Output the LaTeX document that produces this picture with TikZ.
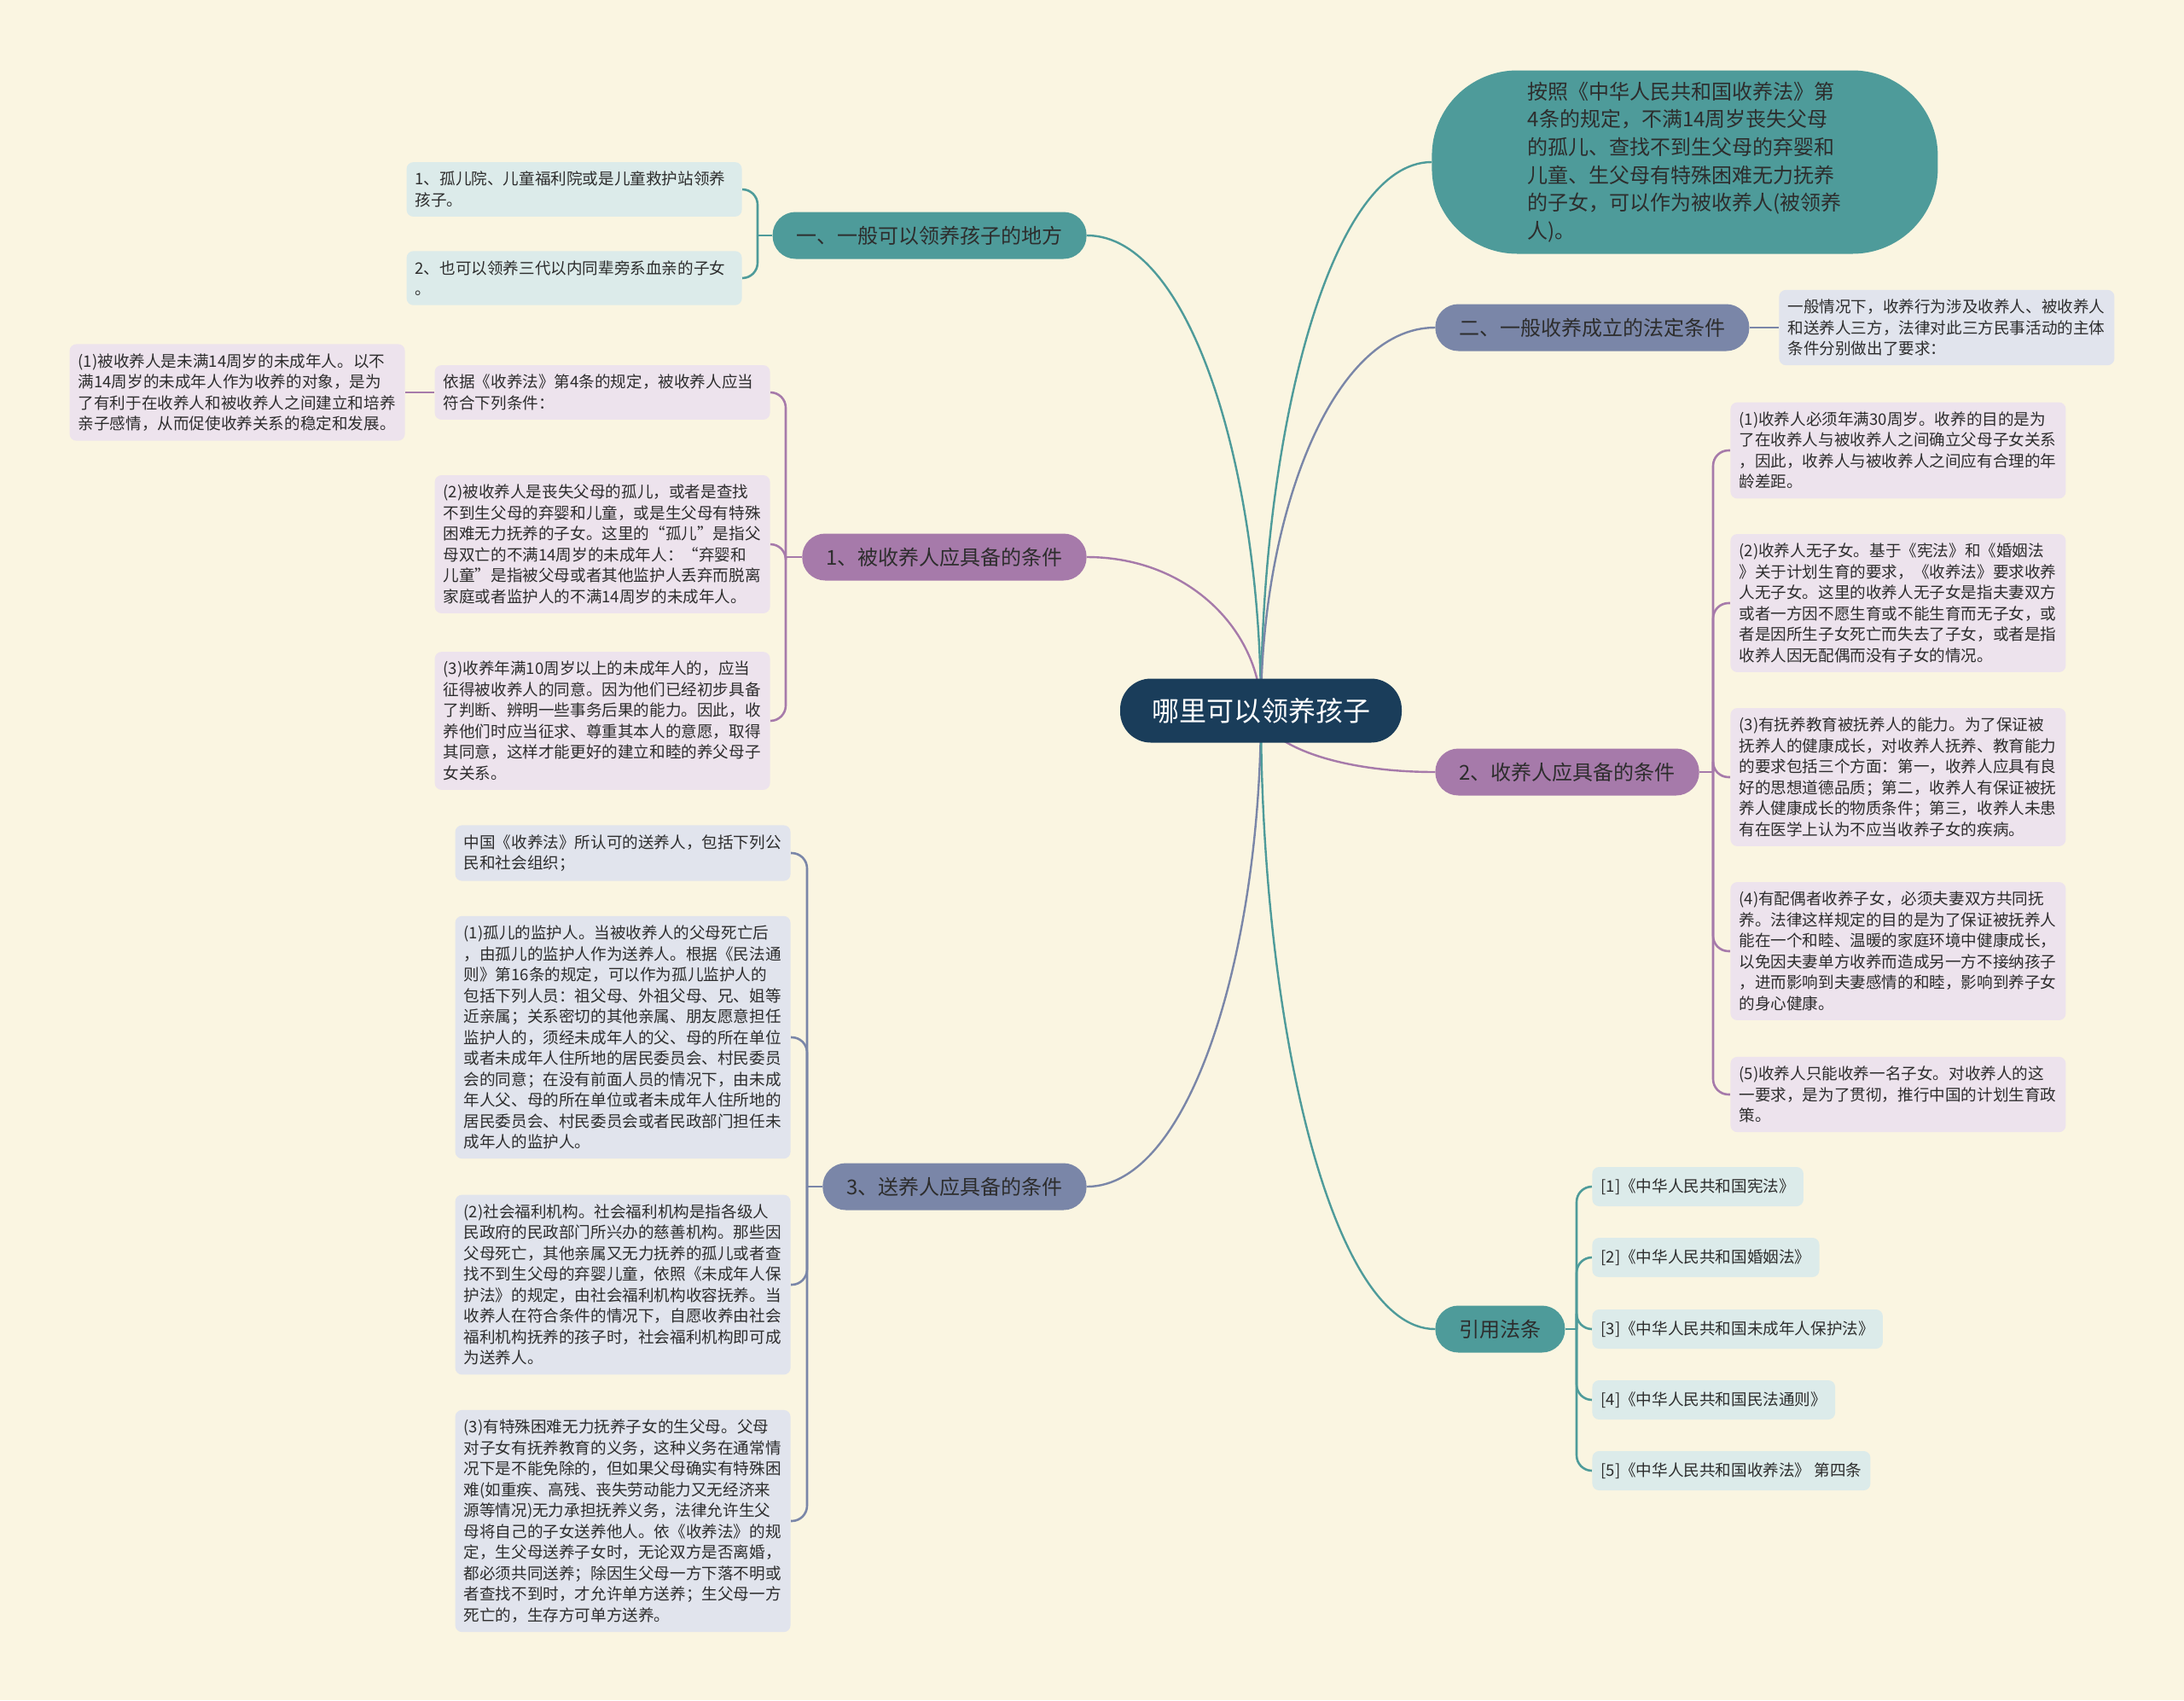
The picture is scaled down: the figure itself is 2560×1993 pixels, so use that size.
\documentclass[tikz,border=0pt]{standalone}
\usepackage{fontspec}
\setmainfont{Noto Sans CJK SC}
\usetikzlibrary{positioning, calc, backgrounds}
\definecolor{bgcolor}{RGB}{250,245,225}
\definecolor{rootcolor}{RGB}{26,61,90}
\definecolor{tealcolor}{RGB}{78,155,154}
\definecolor{purplecolor}{RGB}{166,122,170}
\definecolor{slatecolor}{RGB}{122,134,168}
\definecolor{teallight}{RGB}{220,235,234}
\definecolor{purplelight}{RGB}{237,227,237}
\definecolor{slatelight}{RGB}{225,228,237}
\definecolor{textcolor}{RGB}{45,45,45}

\begin{document}
\begin{tikzpicture}[
    x=0.5pt, y=-0.5pt,
    root/.style={fill=rootcolor, text=white, rounded corners=18pt, minimum height=37.5pt, inner xsep=18.5pt, font=\fontsize{16}{20}\selectfont},
    branch/.style={rounded corners=13.5pt, minimum height=27.5pt, inner xsep=14pt, text=textcolor, font=\fontsize{12}{15}\selectfont},
    leaf/.style={rounded corners=4pt, inner xsep=5pt, inner ysep=5.5pt, text width=186.5pt, align=left, text=textcolor, font=\fontsize{9.3}{12.25}\selectfont},
    citebox/.style={rounded corners=4pt, inner xsep=5pt, minimum height=23pt, fill=teallight, text=textcolor, font=\fontsize{9.3}{12.25}\selectfont},
    link/.style={line width=1.2pt},
    bracket/.style={line width=1.3pt, rounded corners=9pt}
]
    \useasboundingbox (0,0) rectangle (2560,1993);

    % Root
    \node[root] (root) at (1478,833) {哪里可以领养孩子};

    % Left side
    \node[branch, fill=tealcolor, anchor=east] (places) at (1274,276) {一、一般可以领养孩子的地方};
    \node[branch, fill=purplecolor, anchor=east] (adoptee) at (1274,653) {1、被收养人应具备的条件};
    \node[branch, fill=slatecolor, anchor=east] (giver) at (1274,1391) {3、送养人应具备的条件};

    \node[leaf, fill=teallight, anchor=east] (p1) at (870,222) {1、孤儿院、儿童福利院或是儿童救护站领养\\孩子。};
    \node[leaf, fill=teallight, anchor=east] (p2) at (870,326) {2、也可以领养三代以内同辈旁系血亲的子女\\。};

    \node[leaf, fill=purplelight, anchor=east] (a0) at (903,460) {依据《收养法》第4条的规定，被收养人应当\\符合下列条件：};
    \node[leaf, fill=purplelight, anchor=east] (a0x) at (475,460) {(1)被收养人是未满14周岁的未成年人。以不\\满14周岁的未成年人作为收养的对象，是为\\了有利于在收养人和被收养人之间建立和培养\\亲子感情，从而促使收养关系的稳定和发展。};
    \node[leaf, fill=purplelight, anchor=east] (a2) at (903,638) {(2)被收养人是丧失父母的孤儿，或者是查找\\不到生父母的弃婴和儿童，或是生父母有特殊\\困难无力抚养的子女。这里的“孤儿”是指父\\母双亡的不满14周岁的未成年人：“弃婴和\\儿童”是指被父母或者其他监护人丢弃而脱离\\家庭或者监护人的不满14周岁的未成年人。};
    \node[leaf, fill=purplelight, anchor=east] (a3) at (903,845) {(3)收养年满10周岁以上的未成年人的，应当\\征得被收养人的同意。因为他们已经初步具备\\了判断、辨明一些事务后果的能力。因此，收\\养他们时应当征求、尊重其本人的意愿，取得\\其同意，这样才能更好的建立和睦的养父母子\\女关系。};

    \node[leaf, fill=slatelight, anchor=east] (g0) at (927,1000) {中国《收养法》所认可的送养人，包括下列公\\民和社会组织；};
    \node[leaf, fill=slatelight, anchor=east] (g1) at (927,1216) {(1)孤儿的监护人。当被收养人的父母死亡后\\，由孤儿的监护人作为送养人。根据《民法通\\则》第16条的规定，可以作为孤儿监护人的\\包括下列人员：祖父母、外祖父母、兄、姐等\\近亲属；关系密切的其他亲属、朋友愿意担任\\监护人的，须经未成年人的父、母的所在单位\\或者未成年人住所地的居民委员会、村民委员\\会的同意；在没有前面人员的情况下，由未成\\年人父、母的所在单位或者未成年人住所地的\\居民委员会、村民委员会或者民政部门担任未\\成年人的监护人。};
    \node[leaf, fill=slatelight, anchor=east] (g2) at (927,1506) {(2)社会福利机构。社会福利机构是指各级人\\民政府的民政部门所兴办的慈善机构。那些因\\父母死亡，其他亲属又无力抚养的孤儿或者查\\找不到生父母的弃婴儿童，依照《未成年人保\\护法》的规定，由社会福利机构收容抚养。当\\收养人在符合条件的情况下，自愿收养由社会\\福利机构抚养的孩子时，社会福利机构即可成\\为送养人。};
    \node[leaf, fill=slatelight, anchor=east] (g3) at (927,1783) {(3)有特殊困难无力抚养子女的生父母。父母\\对子女有抚养教育的义务，这种义务在通常情\\况下是不能免除的，但如果父母确实有特殊困\\难(如重疾、高残、丧失劳动能力又无经济来\\源等情况)无力承担抚养义务，法律允许生父\\母将自己的子女送养他人。依《收养法》的规\\定，生父母送养子女时，无论双方是否离婚，\\都必须共同送养；除因生父母一方下落不明或\\者查找不到时，才允许单方送养；生父母一方\\死亡的，生存方可单方送养。};

    % Right side
    \node[fill=tealcolor, rounded corners=50pt, minimum width=296.5pt, minimum height=107.5pt, align=left, text=textcolor, font=\fontsize{12}{16.3}\selectfont, anchor=west] (law) at (1678,190) {按照《中华人民共和国收养法》第\\4条的规定，不满14周岁丧失父母\\的孤儿、查找不到生父母的弃婴和\\儿童、生父母有特殊困难无力抚养\\的子女，可以作为被收养人(被领养\\人)。};
    \node[branch, fill=slatecolor, anchor=west] (legal) at (1682,384) {二、一般收养成立的法定条件};
    \node[branch, fill=purplecolor, anchor=west] (adopter) at (1682,905) {2、收养人应具备的条件};
    \node[branch, fill=tealcolor, anchor=west] (cited) at (1682,1558) {引用法条};

    \node[leaf, fill=slatelight, anchor=west] (e1) at (2085,384) {一般情况下，收养行为涉及收养人、被收养人\\和送养人三方，法律对此三方民事活动的主体\\条件分别做出了要求：};

    \node[leaf, fill=purplelight, anchor=west] (r1) at (2028,528) {(1)收养人必须年满30周岁。收养的目的是为\\了在收养人与被收养人之间确立父母子女关系\\，因此，收养人与被收养人之间应有合理的年\\龄差距。};
    \node[leaf, fill=purplelight, anchor=west] (r2) at (2028,707) {(2)收养人无子女。基于《宪法》和《婚姻法\\》关于计划生育的要求，《收养法》要求收养\\人无子女。这里的收养人无子女是指夫妻双方\\或者一方因不愿生育或不能生育而无子女，或\\者是因所生子女死亡而失去了子女，或者是指\\收养人因无配偶而没有子女的情况。};
    \node[leaf, fill=purplelight, anchor=west] (r3) at (2028,911) {(3)有抚养教育被抚养人的能力。为了保证被\\抚养人的健康成长，对收养人抚养、教育能力\\的要求包括三个方面：第一，收养人应具有良\\好的思想道德品质；第二，收养人有保证被抚\\养人健康成长的物质条件；第三，收养人未患\\有在医学上认为不应当收养子女的疾病。};
    \node[leaf, fill=purplelight, anchor=west] (r4) at (2028,1115) {(4)有配偶者收养子女，必须夫妻双方共同抚\\养。法律这样规定的目的是为了保证被抚养人\\能在一个和睦、温暖的家庭环境中健康成长，\\以免因夫妻单方收养而造成另一方不接纳孩子\\，进而影响到夫妻感情的和睦，影响到养子女\\的身心健康。};
    \node[leaf, fill=purplelight, anchor=west] (r5) at (2028,1283) {(5)收养人只能收养一名子女。对收养人的这\\一要求，是为了贯彻，推行中国的计划生育政\\策。};

    \node[citebox, anchor=west] (c1) at (1866,1391) {[1]《中华人民共和国宪法》};
    \node[citebox, anchor=west] (c2) at (1866,1474) {[2]《中华人民共和国婚姻法》};
    \node[citebox, anchor=west] (c3) at (1866,1558) {[3]《中华人民共和国未成年人保护法》};
    \node[citebox, anchor=west] (c4) at (1866,1641) {[4]《中华人民共和国民法通则》};
    \node[citebox, anchor=west] (c5) at (1866,1724) {[5]《中华人民共和国收养法》 第四条};

    % Junctions
    \coordinate (placesj) at (888,276);
    \coordinate (adopteej) at (921,653);
    \coordinate (giverj) at (946,1391);
    \coordinate (adopterj) at (2008,905);
    \coordinate (citedj) at (1848,1558);

    \begin{scope}[on background layer]
        \fill[bgcolor] (0,0) rectangle (2560,1993);

        % Root to branches
        \foreach \n/\a/\c in {places/east/tealcolor, adoptee/east/purplecolor, giver/east/slatecolor, law/west/tealcolor, legal/west/slatecolor, adopter/west/purplecolor, cited/west/tealcolor}
            \draw[link, \c] (root.center) .. controls ($(root.center)!.5!(root.center |- \n.\a)$) and ($(\n.\a)!.6!(\n.\a -| root.center)$) .. (\n.\a);

        % Branches to leaves
        \draw[bracket, tealcolor] (places.west) -- (placesj);
        \foreach \l in {p1,p2}
            \draw[bracket, tealcolor] (\l.east) -| (placesj);

        \draw[bracket, purplecolor] (adoptee.west) -- (adopteej);
        \foreach \l in {a0,a2,a3}
            \draw[bracket, purplecolor] (\l.east) -| (adopteej);
        \draw[bracket, purplecolor] (a0.west) -- (a0x.east);

        \draw[bracket, slatecolor] (giver.west) -- (giverj);
        \foreach \l in {g0,g1,g2,g3}
            \draw[bracket, slatecolor] (\l.east) -| (giverj);

        \draw[bracket, slatecolor] (legal.east) -- (e1.west);

        \draw[bracket, purplecolor] (adopter.east) -- (adopterj);
        \foreach \l in {r1,r2,r3,r4,r5}
            \draw[bracket, purplecolor] (\l.west) -| (adopterj);

        \draw[bracket, tealcolor] (cited.east) -- (citedj);
        \foreach \l in {c1,c2,c3,c4,c5}
            \draw[bracket, tealcolor] (\l.west) -| (citedj);
    \end{scope}
\end{tikzpicture}
\end{document}
